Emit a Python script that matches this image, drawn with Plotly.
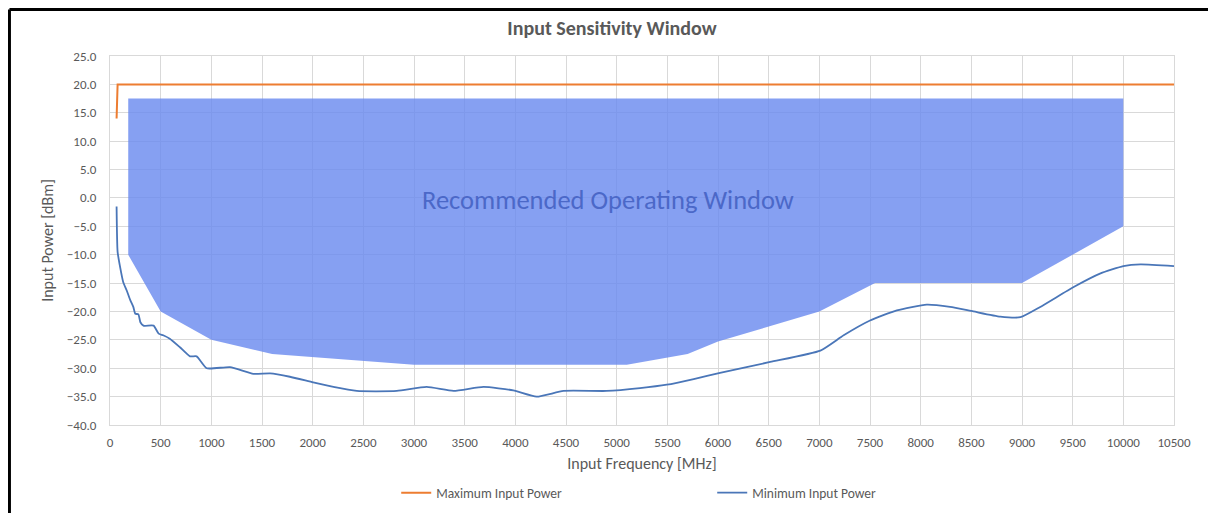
import plotly.graph_objects as go

# ---- data ----
window_freq = [180, 10000, 10000, 9000, 7550, 7000, 6000, 5700, 5100, 3000, 1600, 1000, 500, 180]
window_power = [17.5, 17.5, -5, -15, -15, -20, -25.3, -27.5, -29.4, -29.4, -27.5, -25, -20, -10]

max_freq = [65, 75, 10500]
max_power = [14, 20, 20]

min_freq = [65, 75, 100, 130, 165, 200, 230, 250, 280, 300, 330, 430, 480, 525, 590, 690,
            790, 855, 955, 1185, 1415, 1580, 1775, 2005, 2205, 2435, 2830, 3125, 3390, 3685,
            3980, 4210, 4475, 4900, 5230, 5495, 5760, 6020, 6515, 7010, 7240, 7500, 7765,
            8060, 8290, 8520, 8785, 8985, 9180, 9510, 9775, 10000, 10170, 10500]
min_power = [-1.5, -9.5, -12.2, -14.8, -16.3, -18, -19.2, -20.4, -20.5, -21.9, -22.5, -22.5,
             -23.9, -24.2, -24.8, -26.3, -27.9, -27.9, -30, -29.8, -31, -30.9, -31.5, -32.5,
             -33.3, -34, -34, -33.3, -34, -33.3, -33.9, -35, -34, -34, -33.5, -32.9, -31.9,
             -30.8, -28.9, -26.9, -24.2, -21.6, -19.8, -18.8, -19.2, -20, -20.9, -21, -19.2,
             -15.7, -13.3, -12, -11.7, -12]

x_ticks = list(range(0, 10501, 500))
x_tick_labels = [str(v) for v in x_ticks]
y_ticks = list(range(-40, 26, 5))

FONT = "Calibri, Carlito, Lato, sans-serif"
GREY = "#595959"

fig = go.Figure()
fig.add_trace(go.Scatter(x=window_freq, y=window_power, fill="toself",
                         fillcolor="rgba(104,136,239,0.8)", line=dict(width=0),
                         mode="lines", showlegend=False, hoverinfo="skip"))
fig.add_trace(go.Scatter(x=max_freq, y=max_power, mode="lines", name="Maximum Input Power",
                         line=dict(color="#ED7D31", width=2)))
fig.add_trace(go.Scatter(x=min_freq, y=min_power, mode="lines", name="Minimum Input Power",
                         line=dict(color="#4A76B8", width=1.8, shape="spline", smoothing=0.5)))

fig.add_annotation(x=4914, y=-0.4, text="Recommended Operating Window", showarrow=False,
                   font=dict(family=FONT, size=26.5, color="#4B68C8"))

# outer frame (top and left edges visible)
fig.add_shape(type="line", xref="paper", yref="paper", x0=-0.0945, x1=1.04, y0=1.126, y1=1.126,
              line=dict(color="black", width=3))
fig.add_shape(type="line", xref="paper", yref="paper", x0=-0.0945, x1=-0.0945, y0=1.126, y1=-0.24,
              line=dict(color="black", width=3))

fig.update_layout(
    width=1208, height=505,
    margin=dict(l=102, r=42, t=48, b=88, autoexpand=False),
    paper_bgcolor="white", plot_bgcolor="white",
    font=dict(family=FONT, color=GREY, size=13),
    title=dict(text="<b>Input Sensitivity Window</b>", x=0.5, xref="container", xanchor="center",
               y=1 - 20 / 505, yanchor="middle", font=dict(family=FONT, size=20, color=GREY)),
    legend=dict(orientation="h", x=0.269, y=-0.184, xanchor="left", yanchor="middle",
                entrywidth=271, entrywidthmode="pixels", font=dict(family=FONT, size=13.5, color=GREY),
                bgcolor="rgba(0,0,0,0)"),
    showlegend=True,
)
fig.update_xaxes(range=[0, 10500], tickvals=x_ticks, ticktext=x_tick_labels, showgrid=True,
                 gridcolor="#d9d9d9", showline=True, linecolor="#d9d9d9", mirror=True,
                 zeroline=False, ticklabelstandoff=5, tickfont=dict(size=13), automargin=False,
                 title=dict(text="Input Frequency [MHz]", font=dict(family=FONT, size=16, color=GREY),
                            standoff=9))
fig.update_yaxes(range=[-40, 25], tickvals=y_ticks, tickformat=".1f", showgrid=True,
                 gridcolor="#d9d9d9", showline=True, linecolor="#d9d9d9", mirror=True,
                 zeroline=False, ticklabelstandoff=10, tickfont=dict(size=13), automargin=False,
                 title=dict(text="Input Power [dBm]", font=dict(family=FONT, size=16, color=GREY),
                            standoff=9))

fig.write_html("out.html")
